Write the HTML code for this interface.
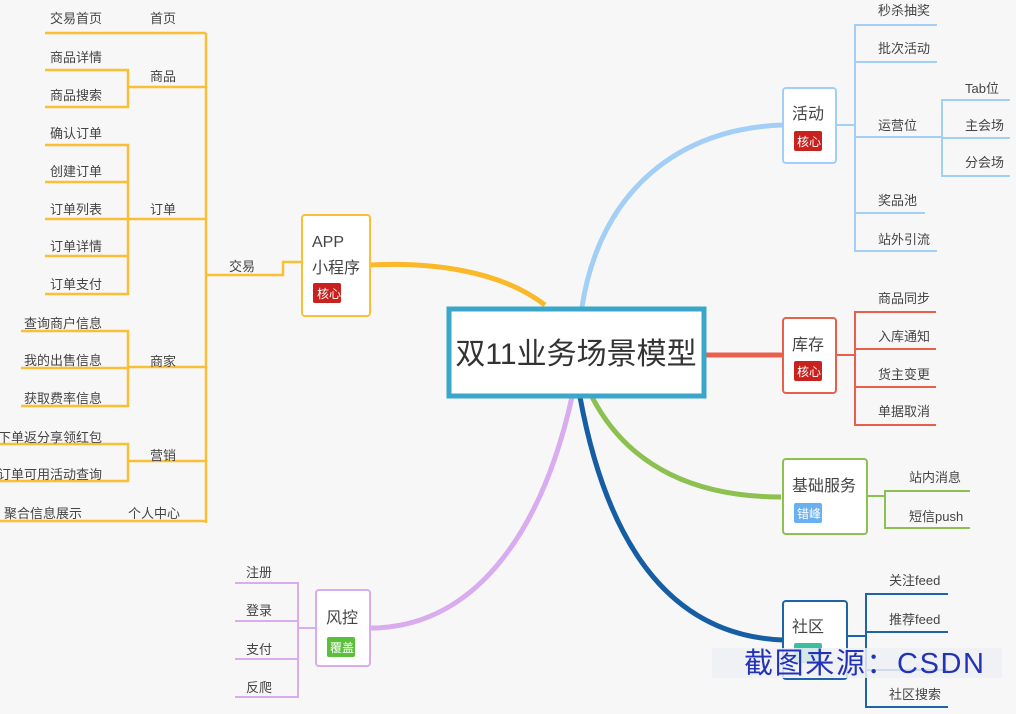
<!DOCTYPE html>
<html><head><meta charset="utf-8"><style>
body{margin:0;background:#f7f7f7;}
svg{display:block;}
text{font-family:"Liberation Sans","Noto Sans CJK SC",sans-serif;fill:#444;}
</style></head><body>
<svg width="1016" height="714" viewBox="0 0 1016 714" xmlns="http://www.w3.org/2000/svg">
<rect width="1016" height="714" fill="#f7f7f7"/>
<path d="M545,305 C500,270 430,262 370,265" stroke="#fbb829" stroke-width="5" fill="none"/>
<path d="M582,307 C600,190 680,128 783,125" stroke="#a3cff6" stroke-width="5" fill="none"/>
<path d="M706,355 L783,355" stroke="#e8604c" stroke-width="5"/>
<path d="M592,397 C630,470 700,497 781,497" stroke="#8cc152" stroke-width="5" fill="none"/>
<path d="M580,397 C610,560 680,636 783,640" stroke="#155ea4" stroke-width="5" fill="none"/>
<path d="M572,397 C540,540 470,628 370,628" stroke="#d8acee" stroke-width="5" fill="none"/>

<g stroke="#fbbf35" stroke-width="2.5" fill="none">
<path d="M301,262 L283,262 L283,275 L206,275"/>
<path d="M206,33 L206,523"/>
<path d="M45,33 L206,33"/>
<path d="M128,87 L206,87"/>
<path d="M45,70 L128,70 L128,107 L45,107"/>
<path d="M128,219 L206,219"/>
<path d="M45,145 L128,145 L128,294 L45,294"/>
<path d="M45,182 L128,182 M45,219 L128,219 M45,256 L128,256"/>
<path d="M128,367 L206,367"/>
<path d="M21,331 L128,331 L128,406 L21,406 M21,368 L128,368"/>
<path d="M128,461 L206,461"/>
<path d="M0,444 L128,444 L128,481 L0,481"/>
<path d="M0,521 L206,521"/>
</g>
<g font-size="13" text-anchor="end">
<text x="102" y="23">交易首页</text>
<text x="102" y="62">商品详情</text>
<text x="102" y="100">商品搜索</text>
<text x="102" y="138">确认订单</text>
<text x="102" y="176">创建订单</text>
<text x="102" y="214">订单列表</text>
<text x="102" y="251">订单详情</text>
<text x="102" y="289">订单支付</text>
<text x="102" y="328">查询商户信息</text>
<text x="102" y="365">我的出售信息</text>
<text x="102" y="403">获取费率信息</text>
<text x="102" y="442">下单返分享领红包</text>
<text x="102" y="479">订单可用活动查询</text>
<text x="82" y="518">聚合信息展示</text>
<text x="176" y="23">首页</text>
<text x="176" y="81">商品</text>
<text x="176" y="214">订单</text>
<text x="176" y="366">商家</text>
<text x="176" y="460">营销</text>
<text x="180" y="518">个人中心</text>
<text x="255" y="271">交易</text>
</g>
<rect x="302" y="215" width="68" height="101" rx="3" fill="#fff" stroke="#fbbf35" stroke-width="2"/>
<text x="312" y="247" font-size="16">APP</text>
<text x="312" y="273" font-size="16">小程序</text>
<rect x="313" y="283" width="28" height="20" rx="2" fill="#c9221e"/>
<text x="317" y="298" font-size="12" style="fill:#fff">核心</text>

<rect x="449" y="309" width="255" height="87" fill="#fff" stroke="#3aa6c9" stroke-width="5"/>
<text x="576" y="364" font-size="30" text-anchor="middle" style="fill:#333">双11业务场景模型</text>

<g stroke="#a3cff6" stroke-width="2" fill="none">
<path d="M836,125 L855,125"/>
<path d="M937,25 L855,25 L855,251 L937,251"/>
<path d="M855,62 L937,62 M855,137 L942,137 M855,213 L925,213"/>
<path d="M1010,100 L942,100 L942,176 L1010,176 M942,138 L1010,138"/>
</g>
<rect x="783" y="88" width="53" height="75" rx="3" fill="#fff" stroke="#a3cff6" stroke-width="2"/>
<text x="792" y="119" font-size="16">活动</text>
<rect x="794" y="131" width="28" height="20" rx="2" fill="#c9221e"/>
<text x="797" y="146" font-size="12" style="fill:#fff">核心</text>
<g font-size="13">
<text x="878" y="15">秒杀抽奖</text>
<text x="878" y="53">批次活动</text>
<text x="878" y="130">运营位</text>
<text x="878" y="205">奖品池</text>
<text x="878" y="244">站外引流</text>
<text x="965" y="93">Tab位</text>
<text x="965" y="130">主会场</text>
<text x="965" y="167">分会场</text>
</g>

<g stroke="#e8604c" stroke-width="2" fill="none">
<path d="M836,355 L855,355"/>
<path d="M936,312 L855,312 L855,425 L936,425 M855,349 L936,349 M855,387 L936,387"/>
</g>
<rect x="783" y="318" width="53" height="75" rx="3" fill="#fff" stroke="#e8604c" stroke-width="2"/>
<text x="792" y="350" font-size="16">库存</text>
<rect x="794" y="361" width="28" height="20" rx="2" fill="#c9221e"/>
<text x="797" y="376" font-size="12" style="fill:#fff">核心</text>
<g font-size="13">
<text x="878" y="303">商品同步</text>
<text x="878" y="341">入库通知</text>
<text x="878" y="379">货主变更</text>
<text x="878" y="416">单据取消</text>
</g>

<g stroke="#8cc152" stroke-width="2" fill="none">
<path d="M867,496 L885,496"/>
<path d="M970,491 L885,491 L885,528 L970,528"/>
</g>
<rect x="783" y="459" width="84" height="75" rx="3" fill="#fff" stroke="#8cc152" stroke-width="2"/>
<text x="792" y="491" font-size="16">基础服务</text>
<rect x="794" y="503" width="28" height="20" rx="2" fill="#6aaff0"/>
<text x="797" y="518" font-size="12" style="fill:#fff">错峰</text>
<g font-size="13">
<text x="909" y="482">站内消息</text>
<text x="909" y="521">短信push</text>
</g>

<g stroke="#1f64a8" stroke-width="2" fill="none">
<path d="M847,636 L866,636"/>
<path d="M948,594 L866,594 L866,707 L948,707 M866,632 L948,632 M866,670 L948,670"/>
</g>
<rect x="783" y="601" width="64" height="78" rx="3" fill="#fff" stroke="#1f64a8" stroke-width="2"/>
<text x="792" y="632" font-size="16">社区</text>
<rect x="794" y="643" width="28" height="20" rx="2" fill="#3cbfa0"/>
<g font-size="13">
<text x="889" y="585">关注feed</text>
<text x="889" y="624">推荐feed</text>
<text x="889" y="699">社区搜索</text>
</g>
<rect x="712" y="648" width="290" height="30" fill="#eef0f3" opacity="0.85"/>
<text x="744" y="673" font-size="29" textLength="240" style="fill:#2233b8">截图来源：CSDN</text>

<g stroke="#d8acee" stroke-width="2" fill="none">
<path d="M316,628 L298,628"/>
<path d="M235,583 L298,583 L298,697 L235,697 M235,621 L298,621 M235,659 L298,659"/>
</g>
<rect x="316" y="590" width="54" height="76" rx="3" fill="#fff" stroke="#d8acee" stroke-width="2"/>
<text x="326" y="623" font-size="16">风控</text>
<rect x="327" y="637" width="28" height="20" rx="2" fill="#5bbf3a"/>
<text x="330" y="652" font-size="12" style="fill:#fff">覆盖</text>
<g font-size="13">
<text x="246" y="577">注册</text>
<text x="246" y="615">登录</text>
<text x="246" y="654">支付</text>
<text x="246" y="692">反爬</text>
</g>
</svg>
</body></html>
